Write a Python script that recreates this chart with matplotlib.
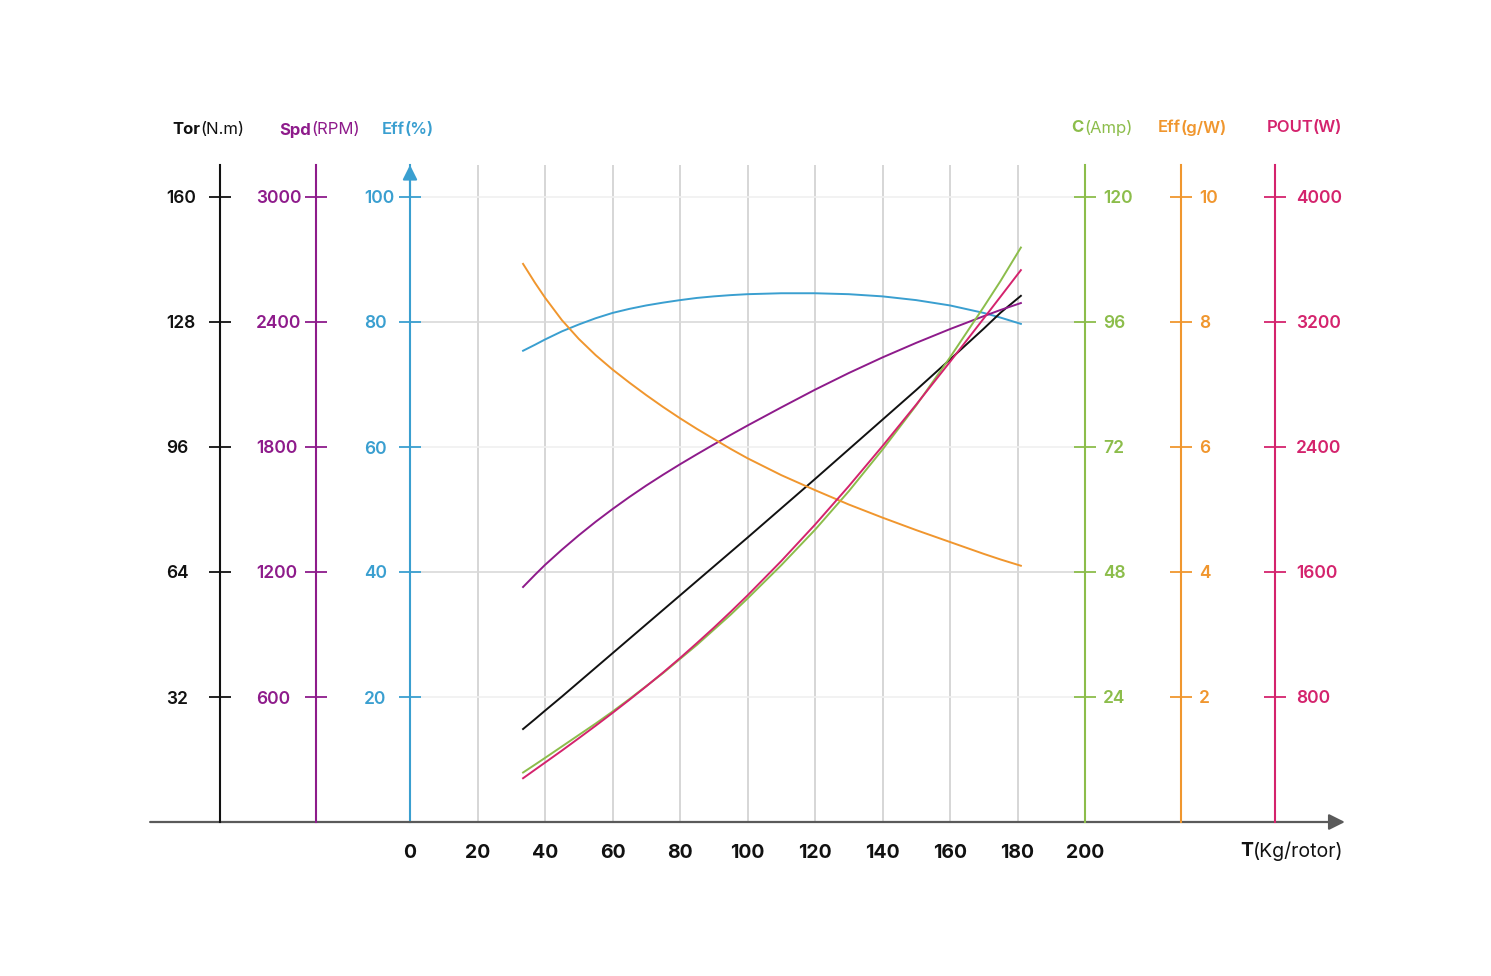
import matplotlib
matplotlib.use('Agg')
import matplotlib.pyplot as plt
import numpy as np

plt.rcParams['font.family'] = ['Inter', 'DejaVu Sans']

# thrust (Kg/rotor) sample points
thrust = [33.5, 37, 40, 45, 50, 55, 60, 65, 70, 75, 80, 85, 90, 95, 100,
          110, 120, 130, 140, 150, 160, 170, 175, 181]

# Eff (%)
eff_pct = [75.4, 76.35, 77.2, 78.5, 79.6, 80.6, 81.45, 82.1, 82.65, 83.1, 83.5, 83.85,
           84.1, 84.3, 84.45, 84.6, 84.6, 84.45, 84.1, 83.5, 82.65, 81.45, 80.7, 79.7]
# Eff (g/W)
eff_gw = [8.93, 8.63, 8.39, 8.03, 7.73, 7.47, 7.24, 7.03, 6.83, 6.64, 6.46, 6.29,
          6.13, 5.97, 5.82, 5.55, 5.31, 5.08, 4.87, 4.67, 4.48, 4.29, 4.20, 4.10]
# Spd (RPM)
speed = [1128, 1186, 1234, 1307, 1376, 1441, 1502, 1560, 1615, 1667, 1717, 1765,
         1812, 1858, 1903, 1990, 2075, 2155, 2230, 2300, 2366, 2428, 2458, 2491]
# Tor (N.m)
torque = [23.8, 26.3, 28.5, 32.1, 35.8, 39.5, 43.2, 46.9, 50.6, 54.3, 58.0, 61.7,
          65.4, 69.1, 72.8, 80.3, 87.8, 95.4, 103.0, 110.6, 118.4, 126.3, 130.4, 134.7]
# C (Amp)
current = [9.5, 11.0, 12.3, 14.5, 16.7, 18.9, 21.2, 23.6, 26.1, 28.6, 31.3, 34.0,
           36.9, 39.8, 42.9, 49.3, 56.1, 63.5, 71.5, 80.0, 89.2, 98.9, 103.9, 110.3]
# POUT (W)
power = [280, 334, 380, 457, 536, 616, 698, 782, 868, 957, 1049, 1145,
         1243, 1345, 1450, 1670, 1903, 2149, 2406, 2672, 2945, 3223, 3363, 3532]

x_ticks = [0, 20, 40, 60, 80, 100, 120, 140, 160, 180, 200]
eff_ticks = [20, 40, 60, 80, 100]
tor_ticks = [32, 64, 96, 128, 160]
spd_ticks = [600, 1200, 1800, 2400, 3000]
cur_ticks = [24, 48, 72, 96, 120]
gw_ticks = [2, 4, 6, 8, 10]
pout_ticks = [800, 1600, 2400, 3200, 4000]

BLACK = '#111111'
PURPLE = '#8e1b8b'
BLUE = '#3a9fd0'
GREEN = '#8cbd4b'
ORANGE = '#f0962e'
PINK = '#d4236d'

W, H = 1491, 976
fig = plt.figure(figsize=(W / 100, H / 100), dpi=100)

# main panel: the Eff(%) axis and the thrust axis
ax = fig.add_axes([410 / W, (H - 822) / H, 675 / W, 657 / H])
ax.set_xlim(0, 200)
span = 657 / 625  # axis top relative to the top tick
ax.set_ylim(0, 100 * span)

for s in ['top', 'right', 'bottom']:
    ax.spines[s].set_visible(False)
ax.spines['left'].set_color(BLUE)
ax.spines['left'].set_linewidth(1.5)

ax.set_xticks(x_ticks)
ax.set_xticklabels([str(v) for v in x_ticks])
ax.tick_params(axis='x', length=0, pad=16, labelsize=14, labelcolor=BLACK)
for t in ax.get_xticklabels():
    t.set_fontweight('bold')
ax.grid(axis='x', color='#d6d6d6', lw=1.4)

ax.set_yticks(eff_ticks)
ax.set_yticklabels([str(v) for v in eff_ticks])
ax.tick_params(axis='y', direction='inout', length=16, width=1.3, color=BLUE,
               labelcolor=BLUE, labelsize=12.5, pad=25)
for t in ax.get_yticklabels():
    t.set_ha('left')
    t.set_fontweight('semibold')
ax.grid(axis='y', lw=1.2)
for v, gl in zip(eff_ticks, ax.get_ygridlines()):
    gl.set_color('#d9d9d9' if v in (40, 80) else '#f0f0f0')
ax.set_axisbelow(True)

ax.plot(thrust, eff_pct, color=BLUE, lw=1.4, zorder=5)

# arrow on top of Eff(%) axis
ax.annotate('', xy=(0, 1.0), xytext=(0, 0.95), xycoords='axes fraction',
            arrowprops=dict(arrowstyle='-|>', color=BLUE, lw=1.5,
                            mutation_scale=22, shrinkA=0, shrinkB=0))
# thrust axis with arrow
ax.annotate('', xy=(1.385, 0), xytext=(-0.385, 0), xycoords='axes fraction',
            arrowprops=dict(arrowstyle='-|>', color='#5a5a5a', lw=1.6,
                            mutation_scale=24, shrinkA=0, shrinkB=0))


def side_axis(side, frac, color, ticks, top, pad):
    a = ax.twinx()
    a.set_ylim(0, top * span)
    for s in ['top', 'bottom', 'left', 'right']:
        a.spines[s].set_visible(False)
    if side == 'left':
        a.yaxis.tick_left()
    else:
        a.yaxis.tick_right()
    a.spines[side].set_visible(True)
    a.spines[side].set_position(('axes', frac))
    a.spines[side].set_color(color)
    a.spines[side].set_linewidth(1.5)
    a.set_yticks(ticks)
    a.set_yticklabels([str(v) for v in ticks])
    a.tick_params(axis='y', direction='inout', length=16, width=1.3, color=color,
                  labelcolor=color, labelsize=12.5, pad=pad)
    for t in a.get_yticklabels():
        t.set_ha('left')
        t.set_fontweight('semibold')
    return a


ax_tor = side_axis('left', (220 - 410) / 675, BLACK, tor_ticks, 160, 31)
ax_spd = side_axis('left', (316 - 410) / 675, PURPLE, spd_ticks, 3000, 35)
ax_cur = side_axis('right', 1.0, GREEN, cur_ticks, 120, 5)
ax_gw = side_axis('right', (1181 - 410) / 675, ORANGE, gw_ticks, 10, 5)
ax_pw = side_axis('right', (1275 - 410) / 675, PINK, pout_ticks, 4000, 7)

ax_gw.plot(thrust, eff_gw, color=ORANGE, lw=1.4)
ax_spd.plot(thrust, speed, color=PURPLE, lw=1.4)
ax_tor.plot(thrust, torque, color=BLACK, lw=1.4)
ax_cur.plot(thrust, current, color=GREEN, lw=1.4)
ax_pw.plot(thrust, power, color=PINK, lw=1.4)


def head(xs, y, bold, rest, color, bold_weight='bold', rest_weight='normal', size=12):
    fig.text(xs / W, 1 - y / H, bold, ha='right', va='center', color=color,
             fontsize=size, fontweight=bold_weight)
    fig.text(xs / W, 1 - y / H, rest, ha='left', va='center', color=color,
             fontsize=size, fontweight=rest_weight)


head(200, 130, 'Tor', '(N.m)', BLACK)
head(311, 130, 'Spd', '(RPM)', PURPLE)
head(405, 130, 'Eff', '(%)', BLUE, 'semibold', 'semibold')
head(1084, 128, 'C', '(Amp)', GREEN)
head(1181, 128, 'Eff', '(g/W)', ORANGE, 'semibold', 'semibold')
head(1313, 128, 'POUT', '(W)', PINK, 'semibold', 'semibold')
head(1253, 851, 'T', '(Kg/rotor)', BLACK, size=14)

fig.savefig('out.png', dpi=100)
